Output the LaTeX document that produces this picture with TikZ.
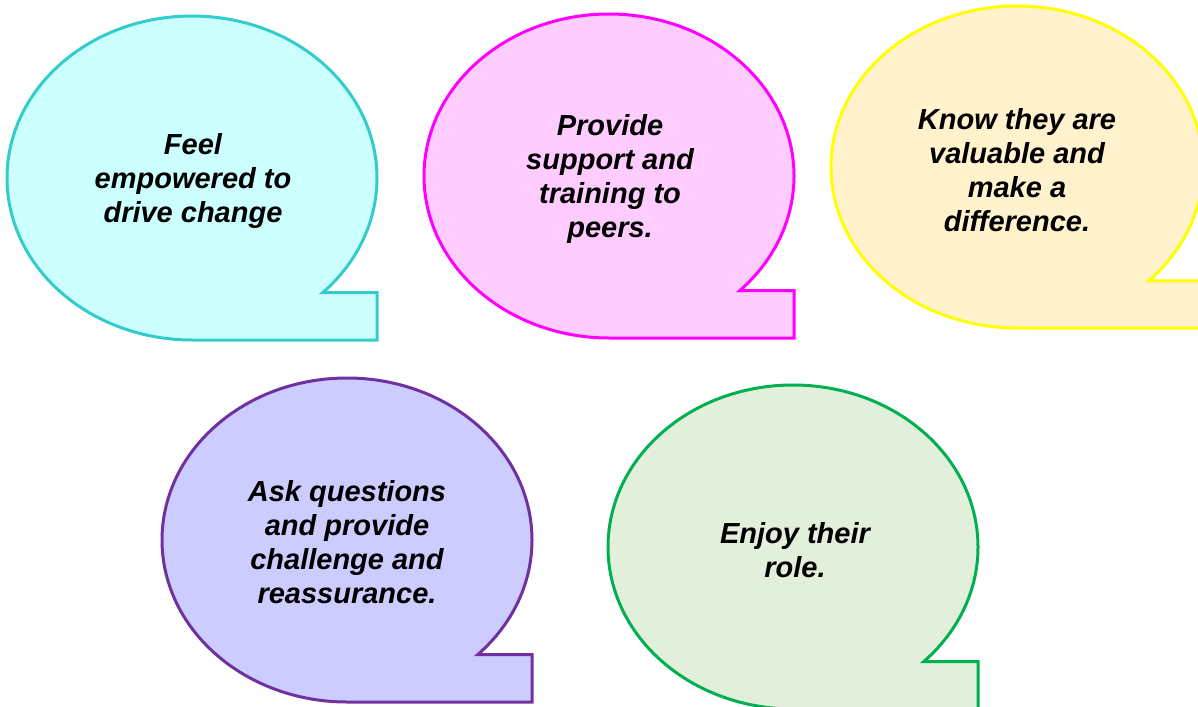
\documentclass[tikz,border=0pt]{standalone}
\usepackage{fontspec}
\setmainfont{Liberation Sans}
\usetikzlibrary{calc}
\definecolor{tealline}{HTML}{33CCCC}
\definecolor{tealfill}{HTML}{CCFFFF}
\definecolor{pinkline}{HTML}{FF00FF}
\definecolor{pinkfill}{HTML}{FFCCFF}
\definecolor{yellowline}{HTML}{FFFF00}
\definecolor{yellowfill}{HTML}{FFF2CC}
\definecolor{purpleline}{HTML}{7030A0}
\definecolor{purplefill}{HTML}{CCCCFF}
\definecolor{greenline}{HTML}{00B050}
\definecolor{greenfill}{HTML}{E2EFDA}
% speech bubble: ellipse with a square corner at the lower right
\def\bubble[#1](#2)(#3:#4) {\draw[#1] ($(#2)+(45:#3 and #4)$)
		arc[start angle=45, end angle=-270, x radius=#3, y radius=#4]
		-- ++(#3,0) |- ($(#2)+(45:#3 and #4)$) -- cycle;}

\begin{document}
\begin{tikzpicture}[x=1pt, y=-1pt, line width=3pt, line join=miter,
	say/.style={align=center, font=\bfseries\itshape\fontsize{29}{34}\selectfont}]

	\useasboundingbox (0,0) rectangle (1198,706);
	\clip (0,0) rectangle (1198,706);

	\bubble[tealline, fill=tealfill](192,178)(185:162)
	\bubble[pinkline, fill=pinkfill](609,176)(185:162)
	\bubble[yellowline, fill=yellowfill](1017,167)(186:161)
	\bubble[purpleline, fill=purplefill](347,540)(185:162)
	\bubble[greenline, fill=greenfill](793,547)(185:162)

	\node[say] (feel) at (193,181) {Feel\\empowered to\\drive change};
	\node[say] (provide) at (610,179) {Provide\\support and\\training to\\peers.};
	\node[say] (know) at (1017,170) {Know they are\\valuable and\\make a\\difference.};
	\node[say] (ask) at (347,542) {Ask questions\\and provide\\challenge and\\reassurance.};
	\node[say] (enjoy) at (795,550) {Enjoy their\\role.};

\end{tikzpicture}
\end{document}
